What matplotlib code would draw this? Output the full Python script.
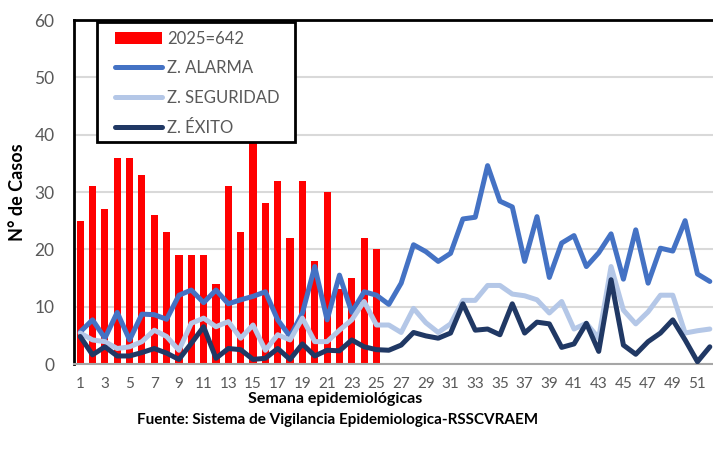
#!/usr/bin/env python3
"""Canal endemico 2025 - casos por semana epidemiologica."""

import matplotlib
matplotlib.use("Agg")
import matplotlib.pyplot as plt
from matplotlib.patches import Patch, Rectangle
from matplotlib.lines import Line2D

# ---------------------------------------------------------------------------
# Data
# ---------------------------------------------------------------------------
semanas = list(range(1, 53))
tick_semanas = list(range(1, 52, 2))

casos_2025 = [25, 31, 27, 36, 36, 33, 26, 23, 19, 19, 19, 14, 31,
              23, 48, 28, 32, 22, 32, 18, 30, 13, 15, 22, 20]

z_alarma = [5.6, 7.7, 4.5, 9.0, 4.2, 8.7, 8.6, 7.8, 12.0, 12.9, 10.7, 12.9, 10.5,
            11.2, 11.8, 12.6, 7.7, 4.8, 8.9, 17.0, 7.7, 15.5, 9.0, 12.6, 12.0, 10.4,
            14.1, 20.8, 19.6, 17.9, 19.3, 25.3, 25.6, 34.6, 28.4, 27.4, 17.9, 25.7,
            15.1, 21.1, 22.4, 17.0, 19.4, 22.7, 14.8, 23.4, 14.1, 20.2, 19.7, 25.0,
            15.7, 14.4]

z_seguridad = [5.4, 4.2, 3.9, 2.7, 3.0, 3.9, 5.9, 4.8, 2.4, 7.1, 8.0, 6.5, 7.4,
               4.5, 6.8, 2.4, 5.1, 4.2, 8.0, 3.9, 3.9, 5.9, 7.7, 10.9, 6.8, 6.8,
               5.5, 9.7, 7.2, 5.5, 7.0, 11.1, 11.1, 13.7, 13.7, 12.2, 11.9, 11.2,
               8.9, 10.9, 6.1, 7.1, 4.5, 17.0, 9.4, 7.0, 9.1, 12.0, 12.0, 5.4,
               5.8, 6.1]

z_exito = [4.8, 1.6, 3.0, 1.4, 1.4, 2.0, 2.7, 1.9, 0.8, 3.6, 6.5, 1.0, 2.7,
           2.5, 0.8, 1.0, 2.7, 0.8, 3.5, 1.4, 2.4, 2.3, 4.2, 3.0, 2.5, 2.4,
           3.3, 5.5, 4.9, 4.5, 5.4, 10.5, 5.9, 6.1, 5.1, 10.5, 5.4, 7.3,
           7.0, 2.9, 3.5, 7.1, 2.2, 14.7, 3.3, 1.7, 3.9, 5.4, 7.7, 4.2,
           0.4, 3.0]

# ---------------------------------------------------------------------------
# Style
# ---------------------------------------------------------------------------
RED       = "#ff0000"
ALARMA    = "#4472c4"
SEGURIDAD = "#b4c7e7"
EXITO     = "#203864"
GRID      = "#d9d9d9"
TICK_TEXT = "#595959"

plt.rcParams["font.family"] = ["Lato", "DejaVu Sans"]


def main():
    fig = plt.figure(figsize=(7.13, 4.57), dpi=100)
    ax = fig.add_axes([0.1038, 0.2035, 0.9004, 0.7527])

    ax.bar(semanas[:len(casos_2025)], casos_2025, width=0.58,
           color=RED, edgecolor="none", zorder=2)

    line_kw = dict(linewidth=3.6, solid_joinstyle="round",
                   solid_capstyle="round", zorder=3)
    ax.plot(semanas, z_alarma, color=ALARMA, **line_kw)
    ax.plot(semanas, z_seguridad, color=SEGURIDAD, **line_kw)
    ax.plot(semanas, z_exito, color=EXITO, **line_kw)

    ax.set_xlim(0.5, 52.5)
    ax.set_ylim(0, 60)
    ax.set_yticks(range(0, 61, 10))
    ax.set_xticks(tick_semanas)
    ax.tick_params(axis="y", length=0, pad=14, labelsize=12.5,
                   labelcolor=TICK_TEXT)
    ax.tick_params(axis="x", length=0, pad=9, labelsize=11,
                   labelcolor=TICK_TEXT)

    ax.set_axisbelow(True)
    ax.yaxis.grid(True, color=GRID, linewidth=1.5)
    ax.xaxis.grid(False)

    ax.spines["right"].set_visible(False)
    ax.spines["left"].set_color("black")
    ax.spines["left"].set_linewidth(2)
    ax.spines["top"].set_color("black")
    ax.spines["top"].set_linewidth(2)
    ax.spines["bottom"].set_color("#a6a6a6")
    ax.spines["bottom"].set_linewidth(1.5)

    # legend box (white, covers the top of week 15)
    box = Rectangle((0.0358, 0.645), 0.308, 0.349, transform=ax.transAxes,
                    facecolor="white", edgecolor="black", linewidth=2,
                    zorder=4, clip_on=False)
    ax.add_patch(box)

    handles = [
        Patch(facecolor=RED, edgecolor="none"),
        Line2D([], [], color=ALARMA, linewidth=3.6, solid_capstyle="round"),
        Line2D([], [], color=SEGURIDAD, linewidth=3.6, solid_capstyle="round"),
        Line2D([], [], color=EXITO, linewidth=3.6, solid_capstyle="round"),
    ]
    labels = ["2025=642", "Z. ALARMA", "Z. SEGURIDAD", "Z. ÉXITO"]
    leg = ax.legend(handles, labels, loc="upper left",
                    bbox_to_anchor=(0.064, 0.969),
                    fontsize=12, labelcolor=TICK_TEXT, frameon=False,
                    handlelength=2.8, handleheight=0.75, handletextpad=0.3,
                    labelspacing=0.82, borderpad=0, borderaxespad=0)
    leg.set_zorder(5)

    fig.text(0.024, 0.58, "N° de Casos", rotation=90, ha="center",
             va="center", fontsize=13, fontweight="bold", color="black")
    fig.text(0.47, 0.128, "Semana epidemiológicas", ha="center",
             va="center", fontsize=11.5, fontweight="bold", color="black")
    fig.text(0.473, 0.081, "Fuente: Sistema de Vigilancia Epidemiologica-RSSCVRAEM",
             ha="center", va="center", fontsize=11, fontweight="bold",
             color="black")

    fig.savefig("out.png", dpi=100, facecolor="white")
    plt.close(fig)


if __name__ == "__main__":
    main()
